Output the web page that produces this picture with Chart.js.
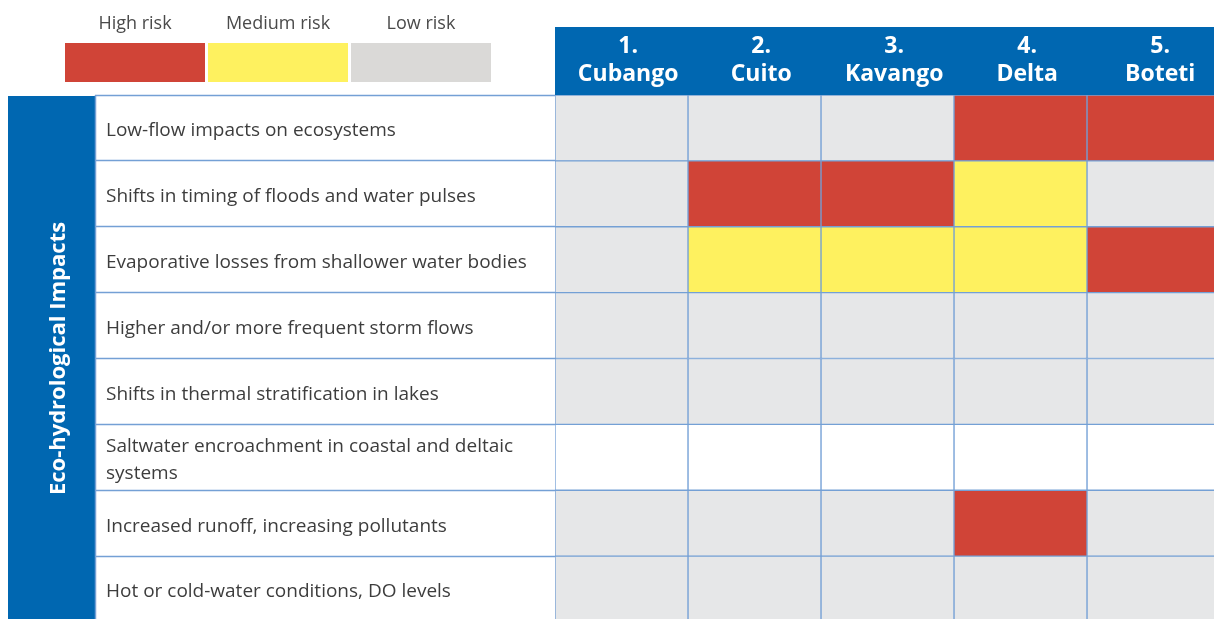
<!DOCTYPE html>
<html>
<head>
<meta charset="utf-8">
<script src="https://cdn.jsdelivr.net/npm/chart.js@4.4.1/dist/chart.umd.min.js"></script>
<style>
  html, body { margin: 0; padding: 0; background: #fff; overflow: hidden; }
  #wrap { position: relative; width: 1220px; height: 622px; }
</style>
</head>
<body>
<div id="wrap"><canvas id="riskChart"></canvas></div>
<script>
/** data */
const columns = [['1.', 'Cubango'], ['2.', 'Cuito'], ['3.', 'Kavango'], ['4.', 'Delta'], ['5.', 'Boteti']];
const impacts = [
  'Low-flow impacts on ecosystems',
  'Shifts in timing of floods and water pulses',
  'Evaporative losses from shallower water bodies',
  'Higher and/or more frequent storm flows',
  'Shifts in thermal stratification in lakes',
  ['Saltwater encroachment in coastal and deltaic', 'systems'],
  'Increased runoff, increasing pollutants',
  'Hot or cold-water conditions, DO levels',
];
// H = high, M = medium, L = low, '' = not rated
const cubango = ['L', 'L', 'L', 'L', 'L', '', 'L', 'L'];
const cuito   = ['L', 'H', 'M', 'L', 'L', '', 'L', 'L'];
const kavango = ['L', 'H', 'M', 'L', 'L', '', 'L', 'L'];
const delta   = ['H', 'M', 'M', 'L', 'L', '', 'H', 'L'];
const boteti  = ['H', 'L', 'H', 'L', 'L', '', 'L', 'L'];
const groupTitle = 'Eco-hydrological Impacts';

const legendLabels = ['High risk', 'Medium risk', 'Low risk'];
const legendColors = ['#d04437', '#fef15f', '#dad9d7'];

const riskColors = { H: '#d04437', M: '#fef15f', L: '#e6e7e8', '': '#ffffff' };
const lineBlue = '#74a0d5';
const headBlue = '#0067b1';

const columnRisks = [cubango, cuito, kavango, delta, boteti];

const datasets = columnRisks.map((risks, i) => ({
  label: columns[i].join(' '),
  data: risks.map(() => 1), // every cell takes one column unit
  backgroundColor: risks.map((r) => riskColors[r]),
  borderColor: lineBlue,
  borderWidth: 1,
  borderSkipped: false,
  barPercentage: 1,
  categoryPercentage: 1,
}));

// blue band, header strip and the legend above the table
const tableDecor = {
  id: 'tableDecor',
  beforeDraw(chart) {
    const { ctx, chartArea, width, height } = chart;
    const band = chart.scales.band;
    ctx.save();
    ctx.fillStyle = headBlue;
    ctx.fillRect(band.left, chartArea.top + 1, 87, height);
    ctx.fillRect(chartArea.left, 27, width - chartArea.left, chartArea.top - 27);
    ctx.strokeStyle = lineBlue;
    ctx.lineWidth = 1.5;
    ctx.beginPath();
    ctx.moveTo(band.left + 87.5, chartArea.top);
    ctx.lineTo(band.left + 87.5, height);
    ctx.stroke();

    // legend
    const boxW = 140;
    const gap = 3;
    legendLabels.forEach((label, i) => {
      const x = 65 + i * (boxW + gap);
      ctx.fillStyle = legendColors[i];
      ctx.fillRect(x, 43, boxW, 39);
      ctx.fillStyle = '#4a4a4a';
      ctx.font = '18px "Open Sans"';
      ctx.textAlign = 'center';
      ctx.textBaseline = 'middle';
      ctx.fillText(label, x + boxW / 2, 24);
    });
    ctx.restore();
  },
};

const riskChart = new Chart(document.getElementById('riskChart'), {
  type: 'bar',
  data: {
    labels: impacts,
    datasets: datasets,
  },
  options: {
    indexAxis: 'y',
    responsive: true,
    maintainAspectRatio: false,
    animation: false,
    layout: {
      padding: { left: 8, top: 27, right: 0, bottom: 0 },
    },
    plugins: {
      legend: { display: false },
      tooltip: { enabled: false },
    },
    scales: {
      x: {
        type: 'linear',
        position: 'top',
        stacked: true,
        min: 0,
        max: 5,
        afterBuildTicks: (s) => {
          // header labels sit a touch right of the column centre
          s.ticks = columns.map((c, i) => ({ value: i + 0.55 }));
        },
        afterFit: (s) => {
          s.height = 68;
        },
        grid: { display: false, drawTicks: false },
        border: { display: false },
        ticks: {
          autoSkip: false,
          maxRotation: 0,
          color: '#ffffff',
          padding: 7,
          font: { family: 'Open Sans', size: 23, weight: 'bold', lineHeight: 1.2 },
          callback: (v, i) => columns[i],
        },
      },
      y: {
        type: 'category',
        position: 'left',
        stacked: true,
        offset: true,
        weight: 0,
        afterFit: (s) => {
          s.width = 449;
          s.paddingTop = 0;
          s.paddingBottom = 0;
        },
        grid: {
          offset: true,
          drawOnChartArea: false,
          drawTicks: true,
          tickLength: 460,
          tickColor: lineBlue,
          tickWidth: 1.5,
        },
        border: { display: true, color: lineBlue, width: 1 },
        ticks: {
          crossAlign: 'far',
          autoSkip: false,
          padding: 0,
          labelOffset: 3,
          color: '#3d3d3d',
          font: { family: 'Open Sans', size: 19, lineHeight: 1.42 },
        },
      },
      band: {
        type: 'category',
        position: 'left',
        weight: 10,
        afterFit: (s) => {
          s.width = 98;
          s.paddingTop = 0;
          s.paddingBottom = 0;
        },
        grid: { display: false },
        border: { display: false },
        ticks: { display: false },
        title: {
          display: true,
          text: groupTitle,
          color: '#ffffff',
          font: { family: 'Open Sans', size: 22, weight: 'bold', lineHeight: 1.2 },
          padding: { top: 38, bottom: 0 },
        },
      },
    },
  },
  plugins: [tableDecor],
});
</script>
</body>
</html>
